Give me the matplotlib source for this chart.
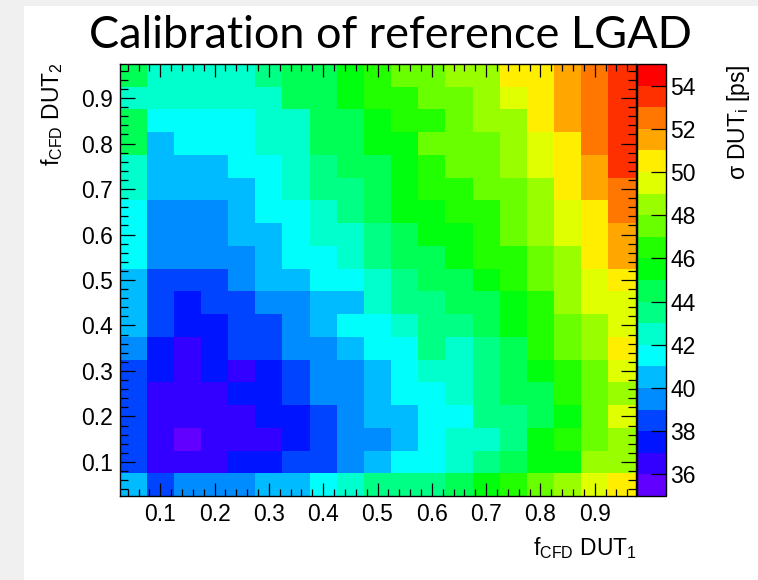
import matplotlib
matplotlib.use("Agg")
import matplotlib.pyplot as plt
import numpy as np
from matplotlib.colors import ListedColormap, BoundaryNorm
from matplotlib.patches import Rectangle
from matplotlib.ticker import MultipleLocator

# ---------------- data ----------------
f_cfd_dut1 = [0.05, 0.10, 0.15, 0.20, 0.25, 0.30, 0.35, 0.40, 0.45, 0.50,
              0.55, 0.60, 0.65, 0.70, 0.75, 0.80, 0.85, 0.90, 0.95]
f_cfd_dut2 = [0.05, 0.10, 0.15, 0.20, 0.25, 0.30, 0.35, 0.40, 0.45, 0.50,
              0.55, 0.60, 0.65, 0.70, 0.75, 0.80, 0.85, 0.90, 0.95]

# sigma DUT_i [ps] for each f_CFD DUT_2 row (left -> right along f_CFD DUT_1)
sigma_y005 = [40.5, 38.5, 39.5, 39.5, 39.5, 40.5, 40.5, 41.5, 42.5, 43.5, 43.5, 43.5, 44.5, 45.5, 46.5, 47.5, 48.5, 49.5, 50.5]
sigma_y010 = [38.5, 36.5, 36.5, 36.5, 37.5, 37.5, 38.5, 38.5, 39.5, 40.5, 41.5, 41.5, 42.5, 43.5, 44.5, 45.5, 45.5, 48.5, 48.5]
sigma_y015 = [38.5, 36.5, 35.5, 36.5, 36.5, 36.5, 37.5, 38.5, 39.5, 39.5, 40.5, 41.5, 42.5, 42.5, 43.5, 45.5, 46.5, 47.5, 48.5]
sigma_y020 = [38.5, 36.5, 36.5, 36.5, 36.5, 37.5, 37.5, 38.5, 39.5, 40.5, 40.5, 41.5, 41.5, 43.5, 43.5, 44.5, 45.5, 47.5, 49.5]
sigma_y025 = [38.5, 36.5, 36.5, 36.5, 37.5, 37.5, 38.5, 39.5, 39.5, 40.5, 41.5, 41.5, 42.5, 43.5, 44.5, 44.5, 46.5, 47.5, 48.5]
sigma_y030 = [38.5, 37.5, 36.5, 37.5, 36.5, 37.5, 38.5, 39.5, 39.5, 40.5, 41.5, 42.5, 42.5, 43.5, 44.5, 45.5, 46.5, 47.5, 49.5]
sigma_y035 = [39.5, 37.5, 36.5, 37.5, 38.5, 38.5, 39.5, 39.5, 40.5, 41.5, 41.5, 43.5, 42.5, 43.5, 44.5, 46.5, 47.5, 48.5, 50.5]
sigma_y040 = [40.5, 38.5, 37.5, 37.5, 38.5, 38.5, 39.5, 40.5, 41.5, 41.5, 42.5, 43.5, 43.5, 44.5, 45.5, 46.5, 47.5, 48.5, 49.5]
sigma_y045 = [40.5, 38.5, 37.5, 38.5, 38.5, 39.5, 39.5, 40.5, 40.5, 42.5, 43.5, 43.5, 44.5, 44.5, 45.5, 46.5, 48.5, 49.5, 49.5]
sigma_y050 = [40.5, 38.5, 38.5, 38.5, 39.5, 40.5, 40.5, 41.5, 41.5, 42.5, 43.5, 44.5, 44.5, 45.5, 46.5, 47.5, 48.5, 49.5, 50.5]
sigma_y055 = [41.5, 39.5, 39.5, 39.5, 39.5, 40.5, 41.5, 41.5, 42.5, 43.5, 44.5, 44.5, 45.5, 46.5, 46.5, 47.5, 48.5, 50.5, 51.5]
sigma_y060 = [41.5, 39.5, 39.5, 39.5, 40.5, 40.5, 41.5, 42.5, 42.5, 43.5, 44.5, 45.5, 45.5, 46.5, 47.5, 48.5, 49.5, 50.5, 51.5]
sigma_y065 = [41.5, 39.5, 39.5, 39.5, 40.5, 41.5, 41.5, 42.5, 43.5, 44.5, 45.5, 45.5, 46.5, 46.5, 47.5, 48.5, 49.5, 50.5, 52.5]
sigma_y070 = [42.5, 40.5, 40.5, 40.5, 40.5, 41.5, 42.5, 43.5, 43.5, 44.5, 45.5, 46.5, 46.5, 47.5, 47.5, 48.5, 50.5, 51.5, 52.5]
sigma_y075 = [42.5, 40.5, 40.5, 40.5, 41.5, 41.5, 42.5, 43.5, 44.5, 44.5, 45.5, 46.5, 47.5, 47.5, 48.5, 49.5, 50.5, 51.5, 53.5]
sigma_y080 = [44.5, 40.5, 41.5, 41.5, 41.5, 42.5, 42.5, 44.5, 44.5, 45.5, 45.5, 47.5, 47.5, 47.5, 48.5, 49.5, 50.5, 52.5, 53.5]
sigma_y085 = [44.5, 41.5, 41.5, 41.5, 41.5, 42.5, 42.5, 44.5, 44.5, 45.5, 46.5, 46.5, 47.5, 48.5, 48.5, 50.5, 51.5, 52.5, 53.5]
sigma_y090 = [42.5, 42.5, 42.5, 42.5, 42.5, 42.5, 44.5, 44.5, 45.5, 46.5, 46.5, 47.5, 47.5, 48.5, 49.5, 50.5, 51.5, 52.5, 53.5]
sigma_y095 = [44.5, 42.5, 42.5, 42.5, 42.5, 43.5, 44.5, 44.5, 45.5, 46.5, 47.5, 47.5, 48.5, 48.5, 50.5, 50.5, 51.5, 52.5, 53.5]

x_ticks = [0.1, 0.2, 0.3, 0.4, 0.5, 0.6, 0.7, 0.8, 0.9]
y_ticks = [0.1, 0.2, 0.3, 0.4, 0.5, 0.6, 0.7, 0.8, 0.9]
z_ticks = [36, 38, 40, 42, 44, 46, 48, 50, 52, 54]
z_min, z_max, n_contours = 35, 55, 20

title = "Calibration of reference LGAD"

# ---------------- style ----------------
plt.rcParams['font.family'] = ['Liberation Sans', 'DejaVu Sans']
plt.rcParams['mathtext.fontset'] = 'custom'
plt.rcParams['mathtext.rm'] = 'Liberation Sans'
plt.rcParams['mathtext.it'] = 'Liberation Sans:italic'
plt.rcParams['mathtext.bf'] = 'Liberation Sans:bold'

# ROOT "pretty" palette colours for 20 contours
palette = ['#6200FF', '#3300FF', '#0014FF', '#0044FF', '#008BFF',
           '#00BBFF', '#00FFFC', '#00FFCC', '#00FF85', '#00FF55',
           '#00FF0E', '#22FF00', '#69FF00', '#99FF00', '#E0FF00',
           '#FFEE00', '#FFA700', '#FF7700', '#FF3000', '#FF0000']
cmap = ListedColormap(palette)
levels = np.linspace(z_min, z_max, n_contours + 1)
norm = BoundaryNorm(levels, cmap.N)

W, H = 758, 580
fig = plt.figure(figsize=(W / 100, H / 100), dpi=100)
fig.patch.set_facecolor('white')
# grey canvas border (left and top)
fig.patches.append(Rectangle((0, 0), 24 / W, 1, transform=fig.transFigure,
                             facecolor='#F0F0F0', edgecolor='none', zorder=-10))
fig.patches.append(Rectangle((0, 1 - 6 / H), 1, 6 / H, transform=fig.transFigure,
                             facecolor='#F0F0F0', edgecolor='none', zorder=-10))

ax_l, ax_r, ax_t, ax_b = 119.5, 635.5, 64, 496
ax = fig.add_axes([ax_l / W, 1 - ax_b / H, (ax_r - ax_l) / W, (ax_b - ax_t) / H])

xc = np.array(f_cfd_dut1)
yc = np.array(f_cfd_dut2)
dx = xc[1] - xc[0]
dy = yc[1] - yc[0]
x_edges = np.append(xc - dx / 2, xc[-1] + dx / 2)
y_edges = np.append(yc - dy / 2, yc[-1] + dy / 2)
Z = np.array([sigma_y005, sigma_y010, sigma_y015, sigma_y020, sigma_y025,
              sigma_y030, sigma_y035, sigma_y040, sigma_y045, sigma_y050,
              sigma_y055, sigma_y060, sigma_y065, sigma_y070, sigma_y075,
              sigma_y080, sigma_y085, sigma_y090, sigma_y095])
ax.pcolormesh(x_edges, y_edges, Z, cmap=cmap, norm=norm, shading='flat',
              edgecolors='none', antialiased=False)
ax.set_xlim(x_edges[0], x_edges[-1])
ax.set_ylim(y_edges[0], y_edges[-1])

ax.set_xticks(x_ticks)
ax.set_yticks(y_ticks)
ax.set_xticklabels([f"{v:g}" for v in x_ticks])
ax.set_yticklabels([f"{v:g}" for v in y_ticks])
ax.xaxis.set_minor_locator(MultipleLocator(0.02))
ax.yaxis.set_minor_locator(MultipleLocator(0.02))
ax.tick_params(axis='x', which='major', direction='in', length=9.3, width=0.9,
               top=True, bottom=True, labelsize=16.5, pad=5)
ax.tick_params(axis='x', which='minor', direction='in', length=4.7, width=0.9,
               top=True, bottom=True)
ax.tick_params(axis='y', which='major', direction='in', length=11.1, width=0.9,
               left=True, right=True, labelsize=16.5, pad=5)
ax.tick_params(axis='y', which='minor', direction='in', length=5.6, width=0.9,
               left=True, right=True)
for s in ax.spines.values():
    s.set_linewidth(1.0)
    s.set_zorder(5)

# colour bar
cax = fig.add_axes([637 / W, 1 - ax_b / H, 29 / W, (ax_b - ax_t) / H])
cb = fig.colorbar(matplotlib.cm.ScalarMappable(norm=norm, cmap=cmap), cax=cax,
                  ticks=z_ticks, drawedges=False)
cb.outline.set_linewidth(1.0)
cax.yaxis.set_ticks_position('right')
cax.tick_params(axis='y', which='major', direction='in', length=10.5, width=0.9,
                labelsize=16.5, pad=3)
cax.set_yticklabels([f"{v:d}" for v in z_ticks])
cax.minorticks_off()

# texts
fig.text(637 / W, 1 - 548 / H, r"f$_{\mathrm{CFD}}$ DUT$_{\mathrm{1}}$", fontsize=16.5,
         ha='right', va='center')
fig.text(52 / W, 1 - 62 / H, r"f$_{\mathrm{CFD}}$ DUT$_{\mathrm{2}}$", fontsize=16.5,
         ha='center', va='top', rotation=90)
fig.text(738 / W, 1 - 64 / H, r"σ DUT$_{\mathrm{i}}$ [ps]", fontsize=16.5,
         ha='center', va='top', rotation=90)

t = fig.text(390 / W, 1 - 36 / H, title, fontsize=32, family=['Lato', 'DejaVu Sans'],
             ha='center', va='center')
# scale title so it spans about 605 px like the reference
fig.canvas.draw()
bb = t.get_window_extent()
t.set_fontsize(32 * 605 / bb.width)

fig.savefig("out.png", dpi=100)
